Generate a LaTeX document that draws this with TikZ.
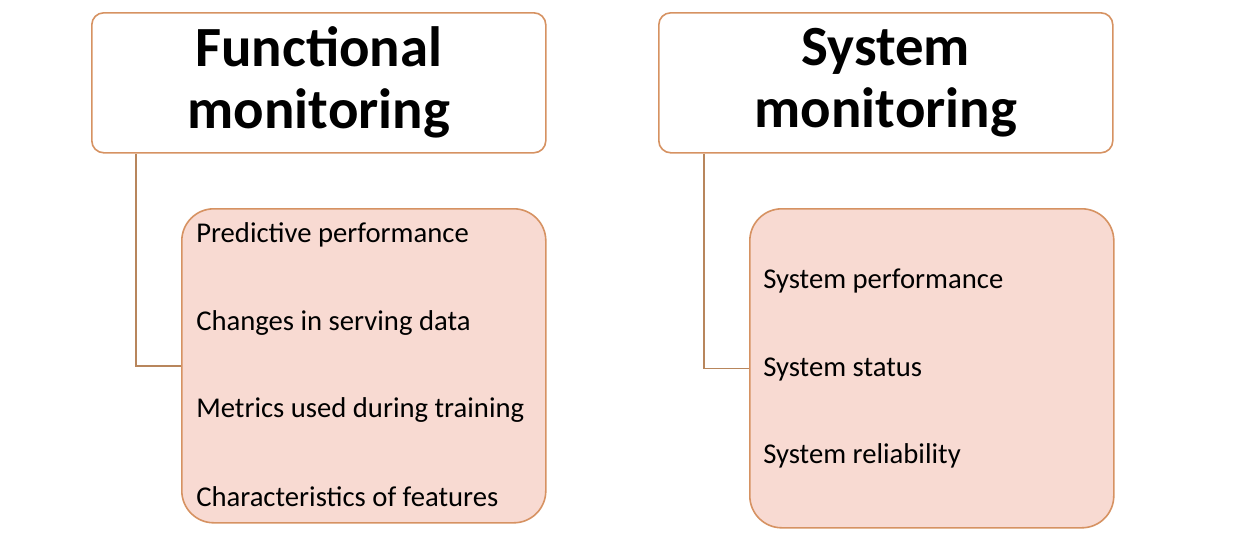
\documentclass[tikz,border=0pt]{standalone}
\usepackage{fontspec}
\setmainfont{Carlito}
\usetikzlibrary{positioning}

\definecolor{boxline}{RGB}{214,146,98}
\definecolor{boxfill}{RGB}{248,218,210}
\definecolor{linkline}{RGB}{184,134,92}

\tikzset{
  head/.style={draw=boxline, line width=1.2pt, rounded corners=9pt, fill=white,
    anchor=north west, minimum width=340.5pt, minimum height=105pt,
    align=center, font=\fontsize{42.6}{46.5}\selectfont\bfseries},
  group/.style={draw=boxline, line width=1.2pt, rounded corners=24pt, fill=boxfill,
    anchor=north west, minimum width=273pt},
  item/.style={anchor=west, inner sep=0pt, font=\fontsize{21.5}{24}\selectfont},
  link/.style={draw=linkline, line width=1.2pt}
}

\begin{document}
\begin{tikzpicture}[x=0.75pt, y=-0.75pt]

\useasboundingbox (0,0) rectangle (1237,547);

% left side
\node (fh) [head] at (91,12) {Functional\\monitoring};
\node (fb) [group, minimum height=235.5pt] at (181,208) {};

\node (f1) [item] at (196,235) {Predictive performance};
\node (f2) [item] at (196,323) {Changes in serving data};
\node (f3) [item] at (196,410) {Metrics used during training};
\node (f4) [item] at (196,497) {Characteristics of features};

\path[link]
(fh.south west) ++(45,0) |- (fb.west);

% right side
\node (sh) [head] at (658,12) {System\\monitoring};
\node (sb) [group, minimum height=239.25pt] at (749,208) {};

\node (s1) [item] at (763,281) {System performance};
\node (s2) [item] at (763,369) {System status};
\node (s3) [item] at (763,456) {System reliability};

\path[link]
(sh.south west) ++(46,0) |- (sb.west);

\end{tikzpicture}
\end{document}
